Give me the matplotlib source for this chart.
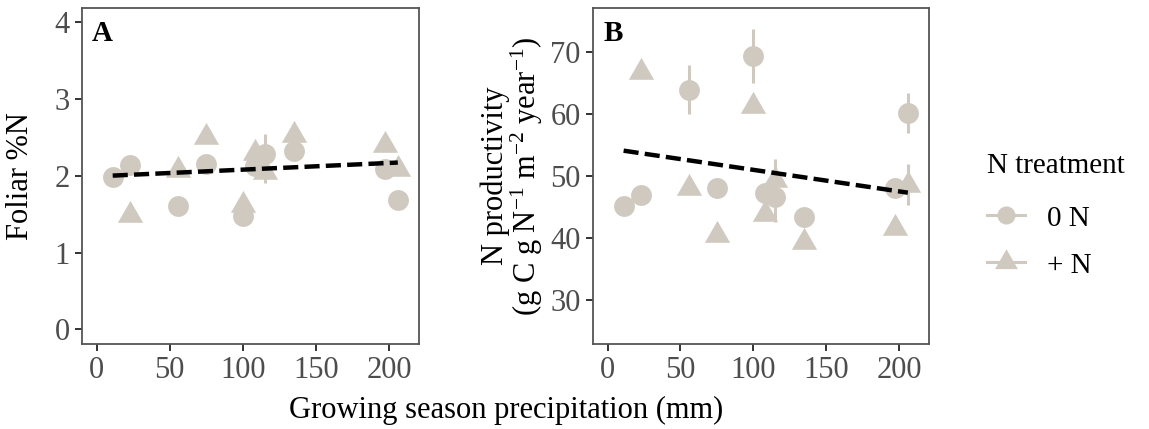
import numpy as np
import matplotlib
matplotlib.use('Agg')
import matplotlib.pyplot as plt
from matplotlib.lines import Line2D

plt.rcParams['font.family'] = ['Liberation Serif', 'DejaVu Serif']
plt.rcParams['mathtext.fontset'] = 'custom'
plt.rcParams['mathtext.rm'] = 'Liberation Serif'
plt.rcParams['mathtext.it'] = 'Liberation Serif:italic'

# growing season precipitation at each site (mm)
precip = [11, 23, 56, 75, 100, 108, 115, 135, 197, 206]

# foliar %N
foliar_0n = [1.98, 2.14, 1.60, 2.15, 1.47, 2.13, 2.28, 2.32, 2.08, 1.68]
foliar_0n_se = [0, 0, 0, 0, 0, 0, 0.26, 0, 0, 0]
foliar_pn = [np.nan, 1.49, 2.07, 2.50, 1.62, 2.29, 2.05, 2.53, 2.40, 2.09]
foliar_pn_se = [0, 0, 0, 0, 0, 0, 0.14, 0, 0, 0.05]

# N productivity
nprod_0n = [45.2, 46.9, 64.0, 48.0, 69.4, 47.2, 46.6, 43.4, 48.0, 60.2]
nprod_0n_se = [0, 0, 3.9, 0, 4.4, 0, 4.0, 0, 0, 3.2]
nprod_pn = [np.nan, 66.9, 48.1, 40.5, 61.4, 43.8, 49.4, 39.3, 41.6, 48.6]
nprod_pn_se = [0, 0, 0, 0, 0, 0, 3.4, 0, 0, 3.3]

# fitted trend lines (start, end)
fit_x = [11, 206]
foliar_fit = [2.00, 2.17]
nprod_fit = [54.1, 47.3]

pt_col = '#cfc9bf'
# equilateral triangle centred on its centroid
tri = [(-0.866, -0.5), (0.866, -0.5), (0.0, 1.0)]


def draw_panel(ax, y0, e0, y1, e1, fit, letter):
    ax.errorbar(precip, y0, yerr=e0, fmt='none', ecolor=pt_col, elinewidth=2.2, zorder=2)
    ax.errorbar(precip, y1, yerr=e1, fmt='none', ecolor=pt_col, elinewidth=2.2, zorder=2)
    ax.plot(precip, y0, 'o', ms=15, color=pt_col, mec='none', zorder=3)
    ax.plot(precip, y1, marker=tri, ls='none', ms=21, color=pt_col, mec='none', zorder=3)
    ax.plot(fit_x, fit, color='black', lw=3.2, ls=(0, (3.4, 1.4)), zorder=4)
    ax.text(0.03, 0.965, letter, transform=ax.transAxes, fontsize=21,
            fontweight='bold', va='top', ha='left')
    ax.set_xlim(-10, 220.5)
    ax.set_xticks([0, 50, 100, 150, 200])
    for s in ax.spines.values():
        s.set_color('#555555')
        s.set_linewidth(1.3)
    ax.tick_params(labelsize=22, labelcolor='#4d4d4d', color='#333333',
                   width=1.4, length=5, pad=4)


fig = plt.figure(figsize=(11.49, 4.29), dpi=100)
axA = fig.add_axes([82 / 1149, 85 / 429, 337 / 1149, 336 / 429])
axB = fig.add_axes([593 / 1149, 85 / 429, 336 / 1149, 336 / 429])

draw_panel(axA, foliar_0n, foliar_0n_se, foliar_pn, foliar_pn_se, foliar_fit, 'A')
axA.set_ylim(-0.19, 4.18)
axA.set_yticks([0, 1, 2, 3, 4])
axA.set_ylabel('Foliar %N', fontsize=22)
axA.yaxis.set_label_coords(-0.14, 0.5)

draw_panel(axB, nprod_0n, nprod_0n_se, nprod_pn, nprod_pn_se, nprod_fit, 'B')
axB.set_ylim(22.8, 77.2)
axB.set_yticks([30, 40, 50, 60, 70])
axB.set_ylabel('N productivity\n(g C g N$^{-1}$ m$^{-2}$ year$^{-1}$)',
               fontsize=22, labelpad=4, linespacing=0.95)

fig.text(506 / 1149, 1 - 410 / 429, 'Growing season precipitation (mm)',
         fontsize=22, ha='center', va='center')

handles = [
    Line2D([0], [0], color=pt_col, lw=2.2, marker='o', ms=13, mec='none'),
    Line2D([0], [0], color=pt_col, lw=2.2, marker=tri, ms=19, mec='none'),
]
leg = fig.legend(handles, ['0 N', '+ N'], title='N treatment', loc='upper left',
                 bbox_to_anchor=(987 / 1149, 1 - 153 / 429), frameon=False,
                 fontsize=21, title_fontsize=21, handlelength=1.3,
                 handleheight=1.0, handletextpad=0.75, labelspacing=0.62,
                 borderpad=0, borderaxespad=0)
leg._legend_box.align = 'left'
leg._legend_box.sep = 17.5

fig.savefig('out.png', dpi=100)
